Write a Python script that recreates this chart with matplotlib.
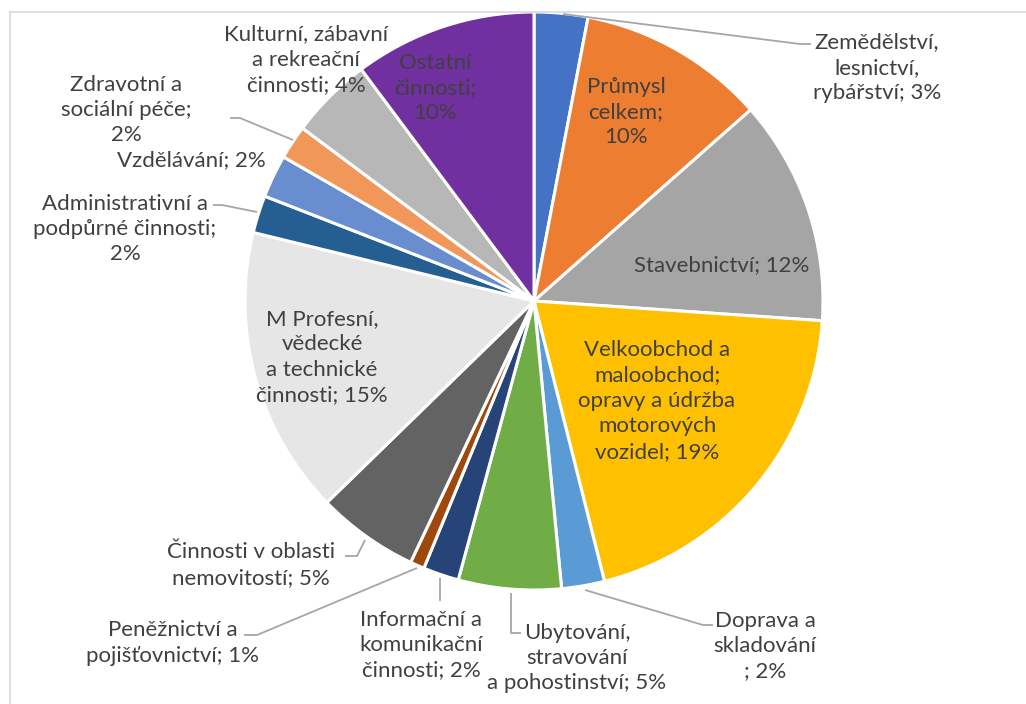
import matplotlib
matplotlib.use("Agg")
import matplotlib.pyplot as plt

# ---- data ----
categories = [
    "Zemědělství,\nlesnictví,\nrybářství; 3%",
    "Průmysl\ncelkem;\n10%",
    "Stavebnictví; 12%",
    "Velkoobchod a\nmaloobchod;\nopravy a údržba\nmotorových\nvozidel; 19%",
    "Doprava a\nskladování\n; 2%",
    "Ubytování,\nstravování\na pohostinství; 5%",
    "Informační a\nkomunikační\nčinnosti; 2%",
    "Peněžnictví a\npojišťovnictví; 1%",
    "Činnosti v oblasti\nnemovitostí; 5%",
    "M Profesní,\nvědecké\na technické\nčinnosti; 15%",
    "Administrativní a\npodpůrné činnosti;\n2%",
    "Vzdělávání; 2%",
    "Zdravotní a\nsociální péče;\n2%",
    "Kulturní, zábavní\na rekreační\nčinnosti; 4%",
    "Ostatní\nčinnosti;\n10%",
]
values = [3.0, 10.5, 12.6, 20.0, 2.4, 5.75, 2.0, 0.8, 5.7, 16.1, 2.1, 2.4, 1.9, 4.6, 10.2]
colors = ["#4472C4", "#ED7D31", "#A5A5A5", "#FFC000", "#5B9BD5", "#70AD47",
          "#264478", "#9E480E", "#636363", "#E7E6E6", "#255E91", "#698ED0",
          "#F1975A", "#B7B7B7", "#7030A0"]

# ---- layout (pixel positions, image coordinates: y downwards) ----
W, H = 1026, 704
label_pos = [(877, 68), (626, 112), (722, 265), (657, 401), (765, 646),
             (577, 658), (421, 645), (173, 643), (251, 565), (322, 357),
             (125, 229), (191, 160), (126, 110), (306, 60), (435, 88)]
leaders = [
    [(563, 14), (800, 44), (811, 44)],
    None, None, None,
    [(585, 590), (703, 625), (713, 625)],
    [(511, 593), (511, 633), (521, 633)],
    [(440, 578), (440, 601)],
    [(417, 568), (257, 635), (244, 635)],
    [(365, 540), (357, 556), (345, 556)],
    None,
    [(257, 212), (222, 205), (213, 205)],
    None,
    [(293, 140), (240, 118), (230, 118)],
    None, None,
]

TEXT = "#404040"
plt.rcParams['font.family'] = ['Lato', 'DejaVu Sans']

fig = plt.figure(figsize=(W / 100, H / 100), dpi=100)
ax = fig.add_axes([0, 0, 1, 1])

def fy(y):
    return H - y

ax.pie(values, colors=colors, startangle=90, counterclock=False,
       center=(534, fy(301)), radius=289,
       wedgeprops=dict(edgecolor="white", linewidth=2.2))

for lab, (x, y) in zip(categories, label_pos):
    ax.text(x, fy(y), lab, ha="center", va="center", color=TEXT,
            fontsize=16, linespacing=1.34, multialignment="center")

for pts in leaders:
    if pts:
        ax.plot([p[0] for p in pts], [fy(p[1]) for p in pts],
                color="#A6A6A6", lw=1.3, solid_capstyle="butt")

# chart-area border (top and left edges visible)
ax.plot([10, W + 5], [fy(12), fy(12)], color="#D9D9D9", lw=1.2)
ax.plot([10, 10], [fy(12), -5], color="#D9D9D9", lw=1.2)

ax.set_xlim(0, W)
ax.set_ylim(0, H)
ax.set_aspect("auto")
ax.axis("off")

fig.savefig("out.png", dpi=100, facecolor="white")
